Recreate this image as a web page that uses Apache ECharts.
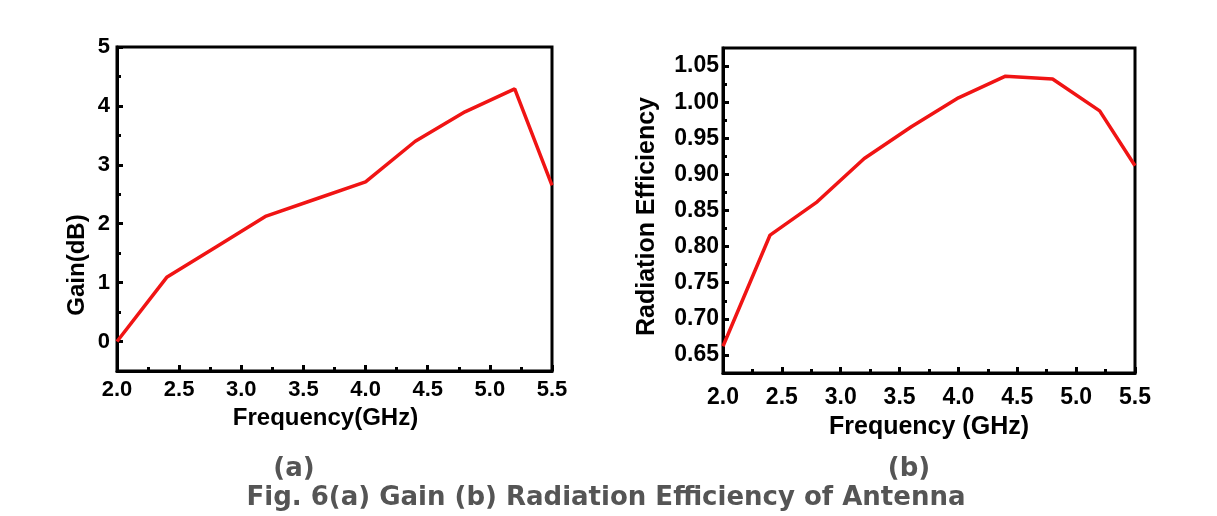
<!DOCTYPE html>
<html>
<head>
<meta charset="utf-8">
<script src="https://cdn.jsdelivr.net/npm/echarts@6/dist/echarts.min.js"></script>
<style>
    html, body {margin: 0; padding: 0; background: #fff;}
    #main {width: 1217px; height: 516px;}
</style>
</head>
<body>
<div id="main"></div>
<script>
var myChart = echarts.init(document.getElementById('main'));

// (a) 增益
var gainFreq = [2.0, 2.4, 2.8, 3.2, 3.6, 4.0, 4.4, 4.8, 5.2, 5.5];
var gainData = [0.0, 1.09, 1.61, 2.13, 2.42, 2.71, 3.40, 3.90, 4.29, 2.65];
var gainTicks = [0, 1, 2, 3, 4, 5];
var gainMinor = [0.5, 1.5, 2.5, 3.5, 4.5];

// (b) 辐射效率
var effFreq = [2.0, 2.4, 2.8, 3.2, 3.6, 4.0, 4.4, 4.8, 5.2, 5.5];
var effData = [0.662, 0.816, 0.862, 0.922, 0.966, 1.006, 1.036, 1.032, 0.988, 0.912];
var effTicks = [0.65, 0.70, 0.75, 0.80, 0.85, 0.90, 0.95, 1.00, 1.05];
var effMinor = [0.675, 0.725, 0.775, 0.825, 0.875, 0.925, 0.975, 1.025];

function pairs(xs, ys) {
    var out = [];
    for (var i = 0; i < xs.length; i++) {
        out.push([xs[i], ys[i]]);
    }
    return out;
}

var FONT = 'Liberation Sans';
var black = '#000';
var CAPTION = 'bold 26px "DejaVu Sans"';

function xAxisOf(grid, fontSize, name, nameGap, nameSize, margin, namePad) {
    return {
        type: 'value',
        gridIndex: grid,
        min: 2.0,
        max: 5.5,
        interval: 0.5,
        name: name,
        nameLocation: 'middle',
        nameGap: nameGap,
        nameTextStyle: {
            color: black, fontFamily: FONT, fontWeight: 'bold', fontSize: nameSize,
            padding: namePad
        },
        axisLine: {show: true, onZero: false, lineStyle: {color: black, width: 3}},
        axisTick: {show: true, inside: true, length: 6, lineStyle: {color: black, width: 3}},
        minorTick: {show: true, splitNumber: 2, length: 4, lineStyle: {color: black, width: 3}},
        axisLabel: {
            color: black, fontFamily: FONT, fontWeight: 'bold', fontSize: fontSize, margin: margin,
            formatter: function (v) { return v.toFixed(1); }
        },
        splitLine: {show: false}
    };
}

option = {
    backgroundColor: '#fff',
    animation: false,
    grid: [
        {left: 117, right: 665, top: 47, bottom: 145, show: true, borderColor: black, borderWidth: 3},
        {left: 723, right: 82, top: 48, bottom: 143, show: true, borderColor: black, borderWidth: 3}
    ],
    xAxis: [
        xAxisOf(0, 22, 'Frequency(GHz)', 32, 24, 8, [0, 18, 0, 0]),
        xAxisOf(1, 23, 'Frequency (GHz)', 42, 25, 13, 0)
    ],
    yAxis: [
        {
            type: 'value',
            gridIndex: 0,
            position: 'left',
            min: -0.5,
            max: 5,
            name: 'Gain(dB)',
            nameLocation: 'middle',
            nameRotate: 90,
            nameGap: 28,
            nameTextStyle: {
                color: black, fontFamily: FONT, fontWeight: 'bold', fontSize: 24,
                padding: [0, 112, 0, 0]
            },
            axisLine: {show: true, lineStyle: {color: black, width: 3}},
            axisTick: {show: true, inside: true, length: 6, customValues: gainTicks, lineStyle: {color: black, width: 3}},
            axisLabel: {
                color: black, fontFamily: FONT, fontWeight: 'bold', fontSize: 22, margin: 7,
                customValues: gainTicks
            },
            splitLine: {show: false}
        },
        {
            // 次刻度
            type: 'value',
            gridIndex: 0,
            position: 'left',
            min: -0.5,
            max: 5,
            axisLine: {show: false},
            axisTick: {show: true, inside: true, length: 4, customValues: gainMinor, lineStyle: {color: black, width: 3}},
            axisLabel: {show: false},
            splitLine: {show: false}
        },
        {
            type: 'value',
            gridIndex: 1,
            position: 'left',
            min: 0.625,
            max: 1.075,
            name: 'Radiation Efficiency',
            nameLocation: 'middle',
            nameRotate: 90,
            nameGap: 63,
            nameTextStyle: {
                color: black, fontFamily: FONT, fontWeight: 'bold', fontSize: 25,
                padding: [0, 12, 0, 0]
            },
            axisLine: {show: true, lineStyle: {color: black, width: 3}},
            axisTick: {show: true, inside: true, length: 6, customValues: effTicks, lineStyle: {color: black, width: 3}},
            axisLabel: {
                color: black, fontFamily: FONT, fontWeight: 'bold', fontSize: 23, margin: 4,
                customValues: effTicks,
                formatter: function (v) { return v.toFixed(2); }
            },
            splitLine: {show: false}
        },
        {
            type: 'value',
            gridIndex: 1,
            position: 'left',
            min: 0.625,
            max: 1.075,
            axisLine: {show: false},
            axisTick: {show: true, inside: true, length: 4, customValues: effMinor, lineStyle: {color: black, width: 3}},
            axisLabel: {show: false},
            splitLine: {show: false}
        }
    ],
    graphic: [
        {type: 'text', x: 294, y: 469, style: {text: '(a)', align: 'center', verticalAlign: 'middle', fill: '#555', font: CAPTION}},
        {type: 'text', x: 909, y: 469, style: {text: '(b)', align: 'center', verticalAlign: 'middle', fill: '#555', font: CAPTION}},
        {type: 'text', x: 606, y: 498, style: {text: 'Fig. 6(a) Gain (b) Radiation Efficiency of Antenna', align: 'center', verticalAlign: 'middle', fill: '#555', font: CAPTION}}
    ],
    series: [
        {
            name: 'Gain',
            type: 'line',
            xAxisIndex: 0,
            yAxisIndex: 0,
            showSymbol: false,
            lineStyle: {color: '#f01414', width: 3.5},
            data: pairs(gainFreq, gainData)
        },
        {
            name: 'Radiation Efficiency',
            type: 'line',
            xAxisIndex: 1,
            yAxisIndex: 2,
            showSymbol: false,
            lineStyle: {color: '#f01414', width: 3.5},
            data: pairs(effFreq, effData)
        }
    ]
};
myChart.setOption(option);
</script>
</body>
</html>
